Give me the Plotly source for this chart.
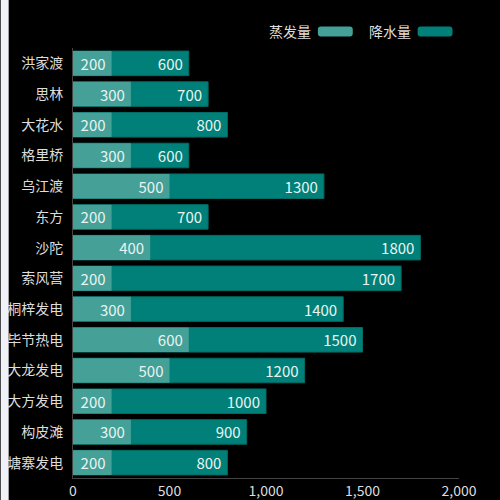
import plotly.graph_objects as go

# 站点（自上而下）
stations = ["洪家渡", "思林", "大花水", "格里桥", "乌江渡", "东方", "沙陀",
            "索风营", "桐梓发电", "毕节热电", "大龙发电", "大方发电", "构皮滩", "塘寨发电"]
evaporation = [200, 300, 200, 300, 500, 200, 400, 200, 300, 600, 500, 200, 300, 200]
rainfall = [600, 700, 800, 600, 1300, 700, 1800, 1700, 1400, 1500, 1200, 1000, 900, 800]
x_ticks = [0, 500, 1000, 1500, 2000]

LIGHT = "#45a097"
DARK = "#008078"
FONT = "Noto Sans CJK SC, Microsoft YaHei, sans-serif"

W, H = 500, 500
L, R, T, B = 72.5, 40.5, 48, 22
PW, PH = W - L - R, H - T - B


def px(x):
    return (x - L) / PW


def py(y):
    return 1 - (y - T) / PH


# thin space after the value gives a little more room at the bar end
label_fmt = "%{text}\u2009"

fig = go.Figure()
fig.add_trace(go.Bar(
    y=stations, x=rainfall, name="降水量", orientation="h",
    marker=dict(color=DARK, line=dict(color="#006b64", width=1)),
    text=rainfall, texttemplate=label_fmt, textposition="inside", insidetextanchor="end",
    constraintext="none", textfont=dict(color="#e8f4f2", size=15), width=0.8,
))
fig.add_trace(go.Bar(
    y=stations, x=evaporation, name="蒸发量", orientation="h",
    marker=dict(color=LIGHT, line=dict(width=0)),
    text=evaporation, texttemplate=label_fmt, textposition="inside", insidetextanchor="end",
    constraintext="none", textfont=dict(color="#e8f4f2", size=15), width=0.8,
))

# legend drawn by hand: label on the left, rounded swatch on the right
shapes = [dict(type="rect", xref="paper", yref="paper", x0=px(0), x1=px(8), y0=py(500), y1=py(0),
               fillcolor="#f0f2f8", line=dict(width=0))]
annotations = []
for label, color, text_right, sw_left in [("蒸发量", LIGHT, 313, 318), ("降水量", DARK, 413, 418)]:
    x0, x1 = px(sw_left), px(sw_left + 35)
    y0, y1 = py(36.5), py(26.5)
    rx = 3 / PW
    ry = 3 / PH
    path = (f"M {x0 + rx},{y0} L {x1 - rx},{y0} Q {x1},{y0} {x1},{y0 + ry} "
            f"L {x1},{y1 - ry} Q {x1},{y1} {x1 - rx},{y1} L {x0 + rx},{y1} "
            f"Q {x0},{y1} {x0},{y1 - ry} L {x0},{y0 + ry} Q {x0},{y0} {x0 + rx},{y0} Z")
    shapes.append(dict(type="path", xref="paper", yref="paper", path=path,
                       fillcolor=color, line=dict(width=0)))
    annotations.append(dict(text=label, xref="paper", yref="paper", x=px(text_right), y=py(31),
                            xanchor="right", yanchor="middle", showarrow=False,
                            font=dict(color="#dddddd", size=14, family=FONT)))

fig.update_layout(
    width=W, height=H,
    margin=dict(l=L, r=R, t=T, b=B, pad=0),
    paper_bgcolor="#000000", plot_bgcolor="#000000",
    font=dict(family=FONT, color="#dddddd", size=14),
    barmode="overlay", showlegend=False,
    shapes=shapes, annotations=annotations,
    xaxis=dict(range=[0, 2000], tickvals=x_ticks, tickformat=",d", showgrid=False,
               zeroline=False, showline=True, linecolor="#444444", linewidth=1,
               ticks="", automargin=False, tickfont=dict(size=14, color="#dddddd")),
    yaxis=dict(autorange="reversed", showgrid=False, zeroline=False, showline=True,
               linecolor="#444444", linewidth=1, ticks="", ticklabelstandoff=6,
               automargin=False, tickfont=dict(size=14, color="#dddddd")),
)

# no page margin so the chart sits at the window corner
fig.write_html("out.html", config={"displayModeBar": False},
               post_script="document.body.style.margin='0';document.body.style.overflow='hidden';")
